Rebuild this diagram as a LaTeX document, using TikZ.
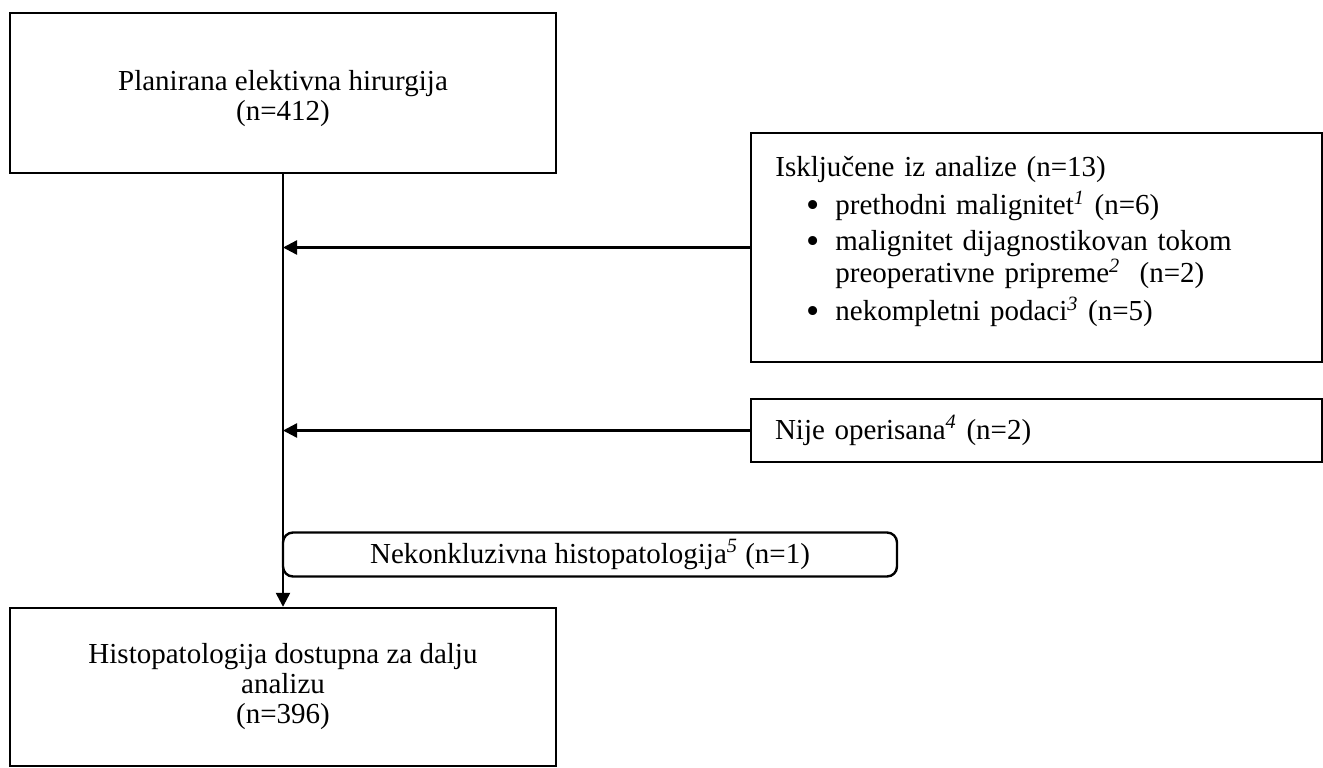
\documentclass[tikz,border=0pt]{standalone}
\usepackage{fontspec}
\setmainfont{Liberation Serif}
\usetikzlibrary{arrows.meta}
\newcommand{\fn}[1]{\textsuperscript{\textit{#1}}}
\newcommand{\blt}{\raisebox{-0.2ex}{\scalebox{1.3}{\textbullet}}}
\tikzset{
  box/.style={draw, line width=1.2pt, inner sep=0pt},
  tip/.style={line width=1.2pt, -{Triangle[length=7pt,width=7pt]}}
}
\begin{document}
\begin{tikzpicture}[x=0.5pt, y=-0.5pt, font=\fontsize{14.5}{15}\selectfont]
    \useasboundingbox (0,0) rectangle (1323,767);
    \node[box, minimum width=273pt, minimum height=80pt] (plan) at (283,93) {\raisebox{-3pt}[\height][\depth]{\begin{tabular}{@{}c@{}}Planirana elektivna hirurgija\\(n=412)\end{tabular}}};
    \node[box, minimum width=285.5pt, minimum height=114.5pt] (excl) at (1036.5,247.5) {};
    \node[anchor=north west, inner sep=0pt, text width=280pt] (excltext) at (775,156) {\raggedright
        Isključene iz analize (n=13)
        \begin{list}{\blt}{\setlength\leftmargin{30pt}\setlength\labelsep{8pt}%
            \setlength\itemsep{3pt}\setlength\topsep{3pt}\setlength\parsep{0pt}\setlength\partopsep{0pt}}
        \item prethodni malignitet\fn{1} (n=6)
        \item malignitet dijagnostikovan tokom\\preoperativne pripreme\fn{2}~ (n=2)
        \item nekompletni podaci\fn{3} (n=5)
        \end{list}};
    \node[box, text width=261.5pt, inner xsep=12pt, minimum height=31.5pt, align=left] (nije) at (1036.5,430.5) {Nije operisana\fn{4} (n=2)};
    \node[box, rounded corners=5pt, minimum width=307pt, minimum height=22pt] (nekon) at (590,554.5) {Nekonkluzivna histopatologija\fn{5} (n=1)};
    \node[box, minimum width=273pt, minimum height=79pt, align=center] (hist) at (283,687) {Histopatologija dostupna za dalju\\analizu\\(n=396)};
    \draw[tip] (plan.south) -- (hist.north);
    \draw[tip] (excl.west) -- (excl.west -| plan.south);
    \draw[tip] (nije.west) -- (nije.west -| plan.south);
\end{tikzpicture}
\end{document}
